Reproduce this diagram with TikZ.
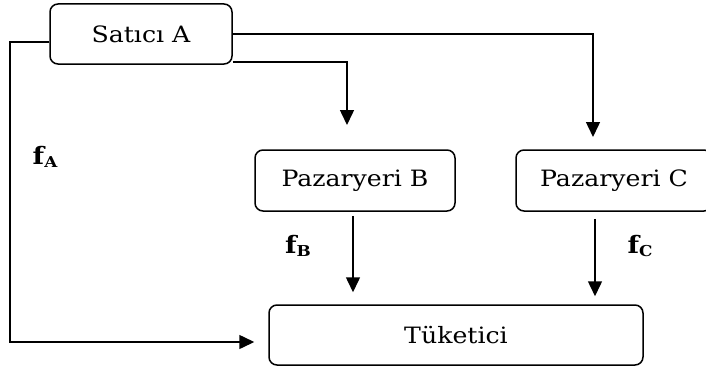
\documentclass[tikz,border=0pt]{standalone}
\usepackage{fontspec}
\setmainfont{DejaVu Serif}[FakeStretch=1.12]
\usetikzlibrary{arrows.meta,calc}
\begin{document}
\begin{tikzpicture}[x=1pt,y=-1pt,
  box/.style={draw,line width=1.5pt,rounded corners=8pt,inner sep=0pt,font=\fontsize{22.5}{25}\selectfont},
  conn/.style={line width=1.5pt},
  arr/.style={conn,-{Triangle[width=14pt,length=15pt]}},
  lbl/.style={font=\fontsize{24}{26}\selectfont\bfseries,inner sep=0pt}]
\useasboundingbox (0,0) rectangle (706,369);
\clip (0,0) rectangle (706,369);
\node[box,minimum width=182pt,minimum height=60pt] (A) at (141,34) {Satıcı A};
\node[box,minimum width=200pt,minimum height=61pt] (B) at (355,180.5) {Pazaryeri B};
\node[box,minimum width=196pt,minimum height=61pt] (C) at (614,180.5) {Pazaryeri C};
\node[box,minimum width=374pt,minimum height=60pt] (T) at (456,335) {Tüketici};
\coordinate (tC) at (593,137);
\coordinate (tB) at (347,125);
\draw[arr] (A.east) -| (tC);
\draw[arr] ([yshift=-28pt]A.east) -| (tB);
\draw[arr] ([yshift=-8pt]A.west) -- (10,42) |- ([xshift=-14pt,yshift=-7pt]T.west);
\draw[arr] ([xshift=-2pt,yshift=-4pt]B.south) -- ([xshift=-103pt,yshift=12pt]T.north);
\draw[arr] ([xshift=-19pt,yshift=-7pt]C.south) -- ([xshift=139pt,yshift=8pt]T.north);
\node[lbl] (fA) at (45,157) {f\raisebox{-3pt}{\fontsize{15}{15}\selectfont A}};
\node[lbl] (fB) at (298,246) {f\raisebox{-3pt}{\fontsize{15}{15}\selectfont B}};
\node[lbl] (fC) at (640,246) {f\raisebox{-3pt}{\fontsize{15}{15}\selectfont C}};
\end{tikzpicture}
\end{document}
